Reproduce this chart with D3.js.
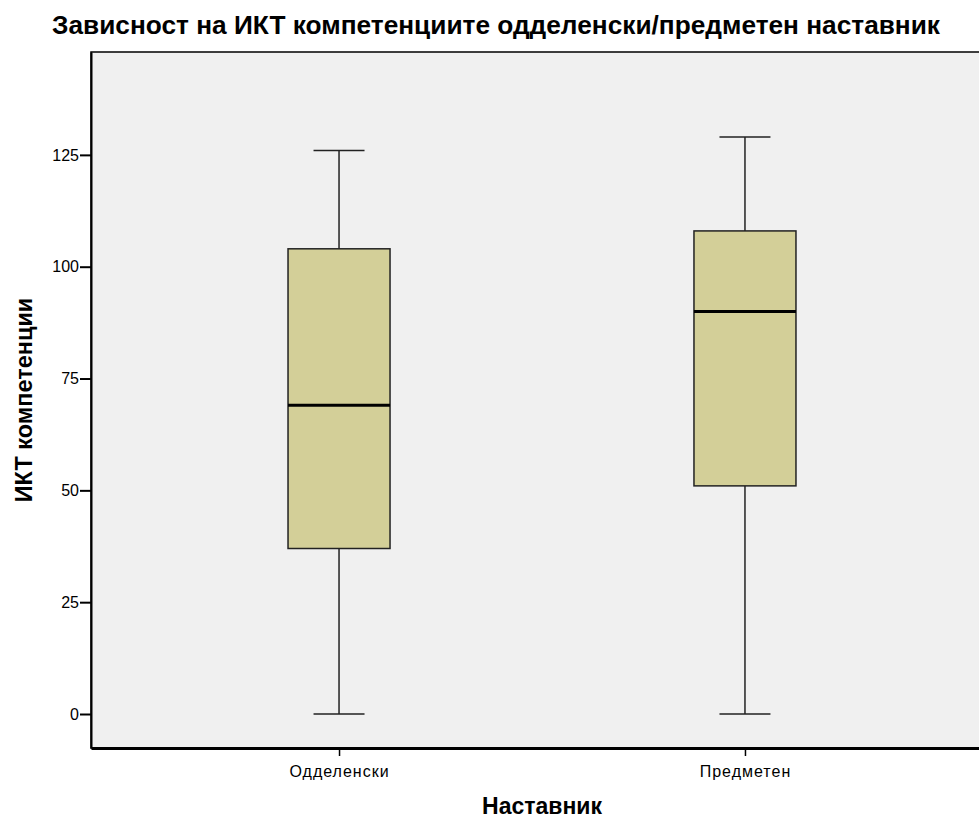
<!DOCTYPE html>
<meta charset="utf-8">
<style>
  body { margin: 0; background: #fff; }
  svg { display: block; font-family: "Liberation Sans", Arial, sans-serif; }
  .title { font-size: 25px; font-weight: bold; }
  .axisTitle { font-weight: bold; }
  .tick text { font-size: 16px; fill: #000; }
  .xaxis .tick text { letter-spacing: 1px; }
</style>
<svg width="979" height="818"></svg>
<script src="https://cdn.jsdelivr.net/npm/d3@7"></script>
<script>

// data
const groups = ["Одделенски", "Предметен"];
const mins   = [0, 0];
const q1s    = [37, 51];
const medians = [69, 90];
const q3s    = [104, 108];
const maxs   = [126, 129];
const yTicks = [0, 25, 50, 75, 100, 125];

const svg = d3.select("svg");

// plot frame
const plot = {left: 91, top: 52, right: 993, bottom: 748};

const y = d3.scaleLinear()
  .domain([-7.6, 148])
  .range([plot.bottom, plot.top]);

const x = d3.scalePoint()
  .domain(groups)
  .range([plot.left, plot.right])
  .padding(0.611);

svg.append("rect")
  .attr("x", plot.left)
  .attr("y", plot.top)
  .attr("width", plot.right - plot.left)
  .attr("height", plot.bottom - plot.top)
  .attr("fill", "#f0f0f0")
  .attr("stroke", "#000")
  .attr("stroke-width", 1.5);

// axes
const yAxis = svg.append("g")
  .attr("transform", `translate(${plot.left},0)`)
  .call(d3.axisLeft(y).tickValues(yTicks).tickSize(11).tickSizeOuter(0).tickPadding(1));
yAxis.attr("font-size", null).attr("font-family", null);
yAxis.select(".domain").attr("stroke-width", 2);
yAxis.selectAll(".tick line").attr("stroke-width", 2);

const xAxis = svg.append("g")
  .attr("class", "xaxis")
  .attr("transform", `translate(0,${plot.bottom})`)
  .call(d3.axisBottom(x).tickSize(8).tickSizeOuter(0).tickPadding(10));
xAxis.attr("font-size", null).attr("font-family", null);
xAxis.select(".domain").attr("stroke-width", 3);
xAxis.selectAll(".tick line").attr("stroke-width", 1.5);

// boxes
const boxW = 102, capW = 51;
const rows = groups.map((g, i) => ({g, min: mins[i], q1: q1s[i], med: medians[i], q3: q3s[i], max: maxs[i]}));

const box = svg.selectAll(".box")
  .data(rows)
  .join("g")
  .attr("class", "box")
  .attr("transform", d => `translate(${x(d.g)},0)`);

box.append("line")
  .attr("y1", d => y(d.max)).attr("y2", d => y(d.q3))
  .attr("stroke", "#222").attr("stroke-width", 1.5);
box.append("line")
  .attr("y1", d => y(d.q1)).attr("y2", d => y(d.min))
  .attr("stroke", "#222").attr("stroke-width", 1.5);
box.append("line")
  .attr("x1", -capW / 2).attr("x2", capW / 2)
  .attr("y1", d => y(d.max)).attr("y2", d => y(d.max))
  .attr("stroke", "#222").attr("stroke-width", 1.5);
box.append("line")
  .attr("x1", -capW / 2).attr("x2", capW / 2)
  .attr("y1", d => y(d.min)).attr("y2", d => y(d.min))
  .attr("stroke", "#222").attr("stroke-width", 1.5);
box.append("rect")
  .attr("x", -boxW / 2).attr("width", boxW)
  .attr("y", d => y(d.q3))
  .attr("height", d => y(d.q1) - y(d.q3))
  .attr("fill", "#d3cf98")
  .attr("stroke", "#222").attr("stroke-width", 1.5);
box.append("line")
  .attr("x1", -boxW / 2).attr("x2", boxW / 2)
  .attr("y1", d => y(d.med)).attr("y2", d => y(d.med))
  .attr("stroke", "#000").attr("stroke-width", 3);

// titles
svg.append("text")
  .attr("class", "title")
  .attr("x", 52).attr("y", 34)
  .attr("textLength", 888)
  .attr("lengthAdjust", "spacingAndGlyphs")
  .text("Зависност на ИКТ компетенциите одделенски/предметен наставник");

svg.append("text")
  .attr("class", "axisTitle")
  .attr("font-size", 23)
  .attr("text-anchor", "middle")
  .attr("x", 542).attr("y", 814)
  .text("Наставник");

svg.append("text")
  .attr("class", "axisTitle")
  .attr("font-size", 23.5)
  .attr("text-anchor", "middle")
  .attr("transform", "translate(32,400) rotate(-90)")
  .text("ИКТ компетенции");
</script>
